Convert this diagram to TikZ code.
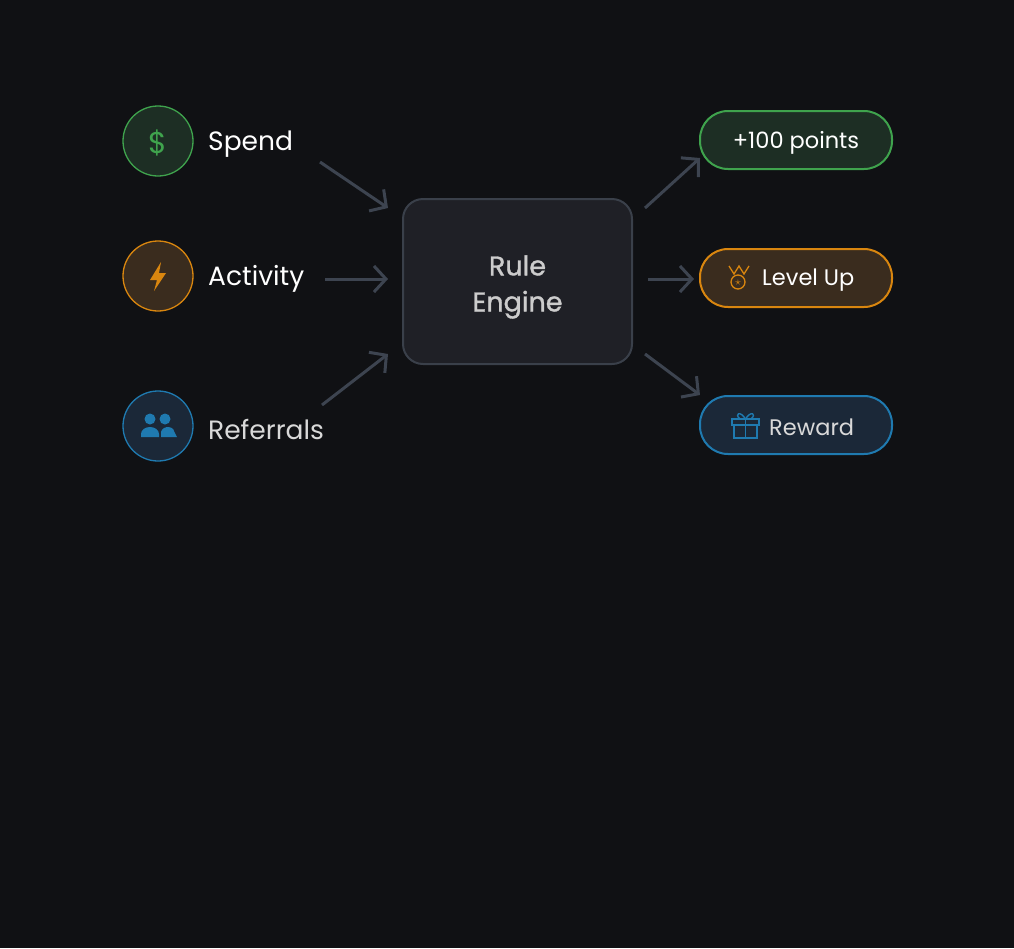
\documentclass[tikz,border=0pt]{standalone}
\usepackage{fontspec}
\setmainfont{Poppins}
\usetikzlibrary{arrows.meta}
\definecolor{bg}{HTML}{101114}
\definecolor{gr}{HTML}{3FA34D}\definecolor{grf}{HTML}{1D2E24}
\definecolor{or}{HTML}{D9860F}\definecolor{orf}{HTML}{3A2C1E}
\definecolor{bl}{HTML}{1F7AB0}\definecolor{blf}{HTML}{1B2838}
\definecolor{ar}{HTML}{3D4450}
\definecolor{boxf}{HTML}{1F2026}\definecolor{boxd}{HTML}{3A404A}
\tikzset{
 ic/.style={circle,minimum size=70pt,line width=1.3pt,inner sep=0pt},
 lab/.style={anchor=west,text=white,font=\fontsize{26.5}{28}\selectfont,inner sep=0pt},
 pill/.style={rounded corners=28pt,minimum width=192pt,minimum height=58pt,line width=2pt},
 conn/.style={draw=ar,line width=3pt,-{Straight Barb[length=12pt,width=26pt,line width=3pt]}},
}
\begin{document}
\begin{tikzpicture}[x=1pt,y=-1pt]
\fill[bg] (0,0) rectangle (1014,948);
\useasboundingbox (0,0) rectangle (1014,948);
% inputs
\node[ic,draw=gr,fill=grf] (c1) at (158,141) {};
\node[text=gr,font=\fontsize{30}{30}\selectfont] at (158,143) {\$};
\node[lab] (spend) at (208,144) {Spend};
\node[ic,draw=or,fill=orf] (c2) at (158,276) {};
\fill[or] (161,262) -- (150,280) -- (157,280) -- (154,291) -- (166,273) -- (159,273) -- cycle;
\node[lab] (act) at (208,279) {Activity};
\node[ic,draw=bl,fill=blf] (c3) at (158,426) {};
\fill[bl] (150,419) circle (5.5); \fill[bl] (165,419) circle (5.5);
\fill[bl] (141,437) -- (141,434) arc[start angle=180,end angle=360,x radius=9,y radius=7] -- (159,437) -- cycle;
\fill[bl] (161,437) -- (161,432) arc[start angle=190,end angle=360,x radius=7,y radius=6] -- (177,437) -- cycle;
\node[lab,text=white!85!black] (ref) at (208,429) {Referrals};
% engine
\node[draw=boxd,fill=boxf,line width=2pt,rounded corners=20pt,minimum width=229pt,minimum height=165pt] (eng) at (517.5,281.5) {};
\node[align=center,text=white!80!black,font=\fontsize{27}{36}\selectfont\addfontfeature{FakeBold=1.2}] at (517.5,287) {Rule\\Engine};
% outputs
\node[pill,draw=gr,fill=grf] (p1) at (796,140) {};
\node[text=white,font=\fontsize{22.5}{26}\selectfont] at (796,142.5) {+100 points};
\node[pill,draw=or,fill=orf] (p2) at (796,278) {};
\node[anchor=west,text=white,font=\fontsize{22.5}{26}\selectfont,inner sep=0pt] (lv) at (762,280.5) {Level Up};
\begin{scope}[draw=or,line width=1.3pt]
\draw (729,266) -- (734,274) -- (739,266) -- (744,274) -- (749,266);
\draw (738,282) circle (7);
\node[text=or,font=\fontsize{12}{12}\selectfont,inner sep=0pt] at (738,282.5) {$\star$};
\end{scope}
\node[pill,draw=bl,fill=blf] (p3) at (796,425) {};
\node[anchor=west,text=white!85!black,font=\fontsize{22.5}{26}\selectfont,inner sep=0pt] (rw) at (769,427.5) {Reward};
\begin{scope}[draw=bl,line width=1.4pt]
\draw (732,419) rectangle (759,425);
\draw (734,425) rectangle (757,438);
\draw (745.5,419) -- (745.5,438);
\draw (745.5,419) .. controls (740,410) and (734,414) .. (740,419);
\draw (745.5,419) .. controls (751,410) and (757,414) .. (751,419);
\end{scope}
% connectors
\coordinate (a1) at (320,162); \coordinate (b1) at (388,208);
\coordinate (a2) at (325,279); \coordinate (b2) at (388,279);
\coordinate (a3) at (322,405); \coordinate (b3) at (388,354);
\coordinate (d1) at (645,208); \coordinate (e1) at (700,158);
\coordinate (d2) at (648,279); \coordinate (e2) at (694,279);
\coordinate (d3) at (645,354); \coordinate (e3) at (700,395);
\foreach \s/\t in {a1/b1,a2/b2,a3/b3,d1/e1,d2/e2,d3/e3} \draw[conn] (\s) -- (\t);
\end{tikzpicture}
\end{document}
